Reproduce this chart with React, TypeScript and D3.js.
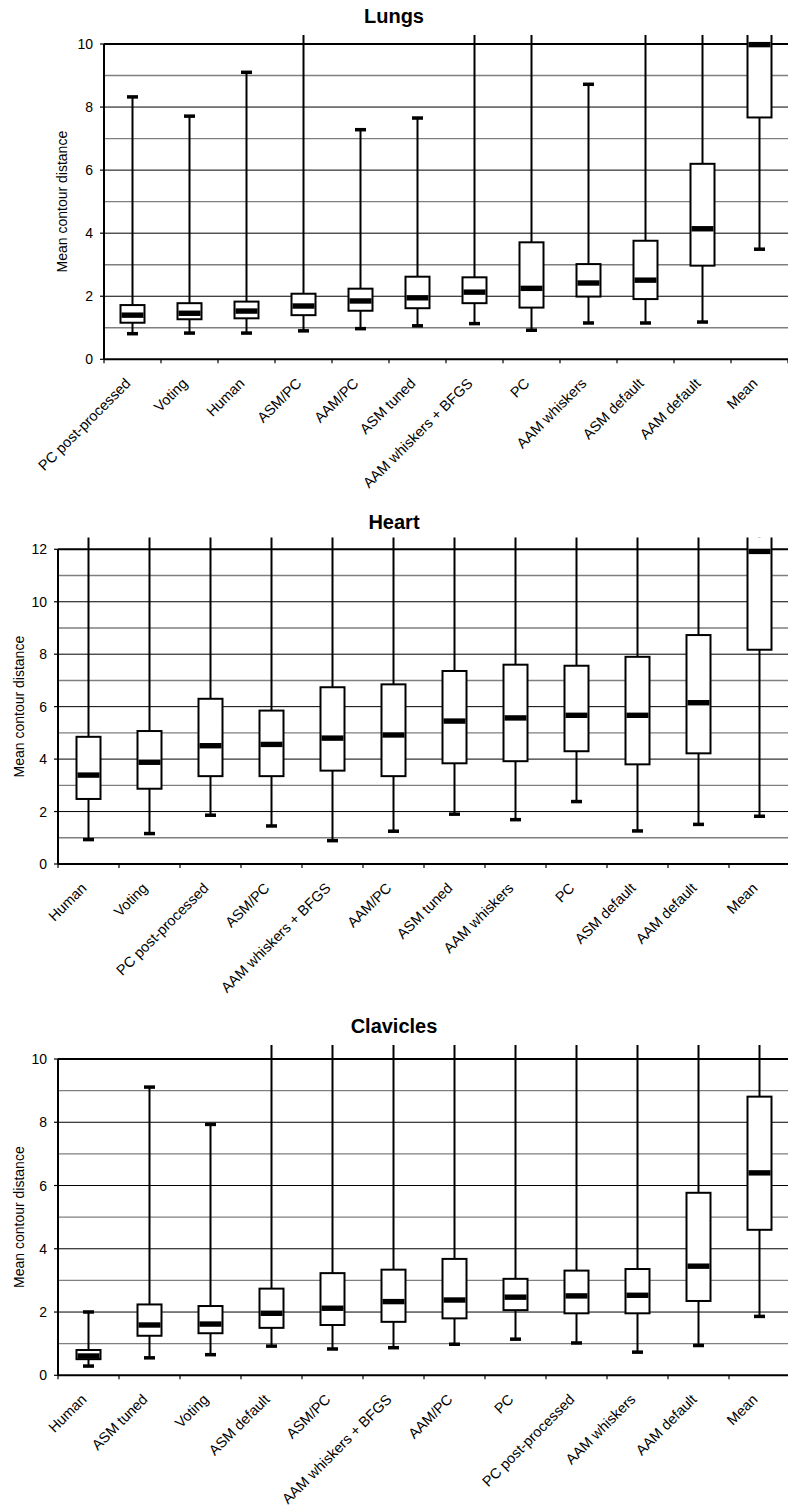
import * as d3 from 'd3';

// Lungs
const lungsCategories = ['PC post-processed', 'Voting', 'Human', 'ASM/PC', 'AAM/PC', 'ASM tuned', 'AAM whiskers + BFGS', 'PC', 'AAM whiskers', 'ASM default', 'AAM default', 'Mean'];
const lungsLow = [0.82, 0.84, 0.84, 0.91, 0.98, 1.07, 1.14, 0.93, 1.16, 1.16, 1.19, 3.5];
const lungsQ1 = [1.16, 1.27, 1.3, 1.4, 1.54, 1.62, 1.78, 1.64, 1.99, 1.91, 2.97, 7.67];
const lungsMedian = [1.4, 1.46, 1.53, 1.69, 1.85, 1.95, 2.13, 2.25, 2.42, 2.51, 4.14, 9.98];
const lungsQ3 = [1.72, 1.78, 1.83, 2.08, 2.24, 2.62, 2.6, 3.71, 3.02, 3.76, 6.2, 11.5];
const lungsHigh = [8.33, 7.72, 9.11, 11, 7.29, 7.66, 11, 11, 8.73, 11, 11, 13];
const lungsTicks = [0, 2, 4, 6, 8, 10];

// Heart
const heartCategories = ['Human', 'Voting', 'PC post-processed', 'ASM/PC', 'AAM whiskers + BFGS', 'AAM/PC', 'ASM tuned', 'AAM whiskers', 'PC', 'ASM default', 'AAM default', 'Mean'];
const heartLow = [0.94, 1.17, 1.87, 1.46, 0.9, 1.26, 1.91, 1.7, 2.39, 1.27, 1.52, 1.83];
const heartQ1 = [2.48, 2.87, 3.35, 3.35, 3.56, 3.35, 3.84, 3.92, 4.3, 3.8, 4.22, 8.17];
const heartMedian = [3.39, 3.88, 4.51, 4.56, 4.8, 4.92, 5.45, 5.57, 5.67, 5.67, 6.15, 11.92];
const heartQ3 = [4.85, 5.07, 6.3, 5.85, 6.74, 6.85, 7.36, 7.6, 7.56, 7.9, 8.73, 13];
const heartHigh = [14, 14, 14, 14, 14, 14, 14, 14, 14, 14, 14, 15];
const heartTicks = [0, 2, 4, 6, 8, 10, 12];

// Clavicles
const clavCategories = ['Human', 'ASM tuned', 'Voting', 'ASM default', 'ASM/PC', 'AAM whiskers + BFGS', 'AAM/PC', 'PC', 'PC post-processed', 'AAM whiskers', 'AAM default', 'Mean'];
const clavLow = [0.3, 0.56, 0.66, 0.93, 0.84, 0.88, 0.99, 1.15, 1.03, 0.74, 0.95, 1.87];
const clavQ1 = [0.51, 1.25, 1.33, 1.5, 1.59, 1.69, 1.8, 2.06, 1.96, 1.96, 2.35, 4.6];
const clavMedian = [0.61, 1.59, 1.62, 1.96, 2.12, 2.33, 2.38, 2.47, 2.51, 2.53, 3.45, 6.4];
const clavQ3 = [0.8, 2.24, 2.19, 2.74, 3.23, 3.34, 3.68, 3.05, 3.31, 3.36, 5.77, 8.81];
const clavHigh = [2.01, 9.12, 7.94, 11, 11, 11, 11, 11, 11, 11, 11, 11];
const clavTicks = [0, 2, 4, 6, 8, 10];

const FONT = '"Liberation Sans", Arial, sans-serif';

interface PanelProps {
  id: string;
  title: string;
  categories: string[];
  low: number[];
  q1: number[];
  median: number[];
  q3: number[];
  high: number[];
  ticks: number[];
  yMax: number;
  left: number;
  right: number;
  top: number;
  bottom: number;
  clipTop: number;
  titleY: number;
  labelX: number;
}

const Panel = (p: PanelProps) => {
  const x = d3.scaleBand().domain(p.categories).range([p.left, p.right]).padding(0);
  const y = d3.scaleLinear().domain([0, p.yMax]).range([p.bottom, p.top]);
  const minor = d3.range(1, p.yMax, 2);
  const major = p.ticks.filter(t => t > 0 && t < p.yMax);
  const bw = 24;
  const capW = 11;

  return (
    <g>
      <defs>
        <clipPath id={`clip-${p.id}`}>
          <rect x={p.left} y={p.clipTop} width={p.right - p.left + 10} height={p.bottom - p.clipTop} />
        </clipPath>
      </defs>
      <text x={394} y={p.titleY} textAnchor="middle" fontFamily={FONT} fontWeight="bold" fontSize={20}>{p.title}</text>

      {/* grid */}
      {minor.map(v => (
        <line key={`mn${v}`} x1={p.left} x2={788} y1={y(v)} y2={y(v)} stroke="#7f7f7f" strokeWidth={1.4} />
      ))}
      {major.map(v => (
        <line key={`mj${v}`} x1={p.left} x2={788} y1={y(v)} y2={y(v)} stroke="#000" strokeWidth={1} />
      ))}
      <line x1={p.left} x2={788} y1={y(p.yMax)} y2={y(p.yMax)} stroke="#000" strokeWidth={2} />

      {/* boxes */}
      <g clipPath={`url(#clip-${p.id})`}>
        {p.categories.map((c, i) => {
          const cx = (x(c) || 0) + x.bandwidth() / 2;
          return (
            <g key={c}>
              <line x1={cx} x2={cx} y1={y(p.low[i])} y2={y(p.high[i])} stroke="#000" strokeWidth={2} />
              <rect x={cx - capW / 2} y={y(p.high[i]) - 1.5} width={capW} height={3.5} fill="#000" />
              <rect x={cx - capW / 2} y={y(p.low[i]) - 1.5} width={capW} height={3.5} fill="#000" />
              <rect x={cx - bw / 2} y={y(p.q3[i])} width={bw} height={y(p.q1[i]) - y(p.q3[i])} fill="#fff" stroke="#000" strokeWidth={2} />
              <rect x={cx - bw / 2 + 1} y={y(p.median[i]) - 2.7} width={bw - 2} height={5.4} fill="#000" />
            </g>
          );
        })}
      </g>

      {/* axes */}
      <line x1={p.left} x2={p.left} y1={p.top} y2={p.bottom} stroke="#000" strokeWidth={2} />
      <line x1={p.left} x2={788} y1={p.bottom} y2={p.bottom} stroke="#000" strokeWidth={2} />
      {p.ticks.map(t => (
        <g key={`yt${t}`}>
          <line x1={p.left - 4} x2={p.left} y1={y(t)} y2={y(t)} stroke="#000" strokeWidth={1.2} />
          <text x={p.left - 11} y={y(t)} dy="0.36em" textAnchor="end" fontFamily={FONT} fontSize={14}>{t}</text>
        </g>
      ))}
      {p.categories.map((c, i) => (
        <line key={`xt${i}`} x1={(x(c) || 0) + x.bandwidth()} x2={(x(c) || 0) + x.bandwidth()} y1={p.bottom} y2={p.bottom + 4} stroke="#000" strokeWidth={1.2} />
      ))}
      <line x1={p.left} x2={p.left} y1={p.bottom} y2={p.bottom + 4} stroke="#000" strokeWidth={1.2} />
      {p.categories.map(c => {
        const cx = (x(c) || 0) + x.bandwidth() / 2;
        return (
          <text key={`xl${c}`} transform={`translate(${cx - 1},${p.bottom + 25}) rotate(-45)`} textAnchor="end" fontFamily={FONT} fontSize={14.5}>{c}</text>
        );
      })}
      <text transform={`translate(${p.labelX},${(p.top + p.bottom) / 2}) rotate(-90)`} textAnchor="middle" dy="0.35em" fontFamily={FONT} fontSize={14}>Mean contour distance</text>
    </g>
  );
};

export default function App() {
  return (
    <svg width={788} height={1507} style={{ position: 'absolute', left: 0, top: 0, background: '#fff' }}>
      <rect width={788} height={1507} fill="#fff" />
      <Panel id="lungs" title="Lungs" categories={lungsCategories} low={lungsLow} q1={lungsQ1} median={lungsMedian} q3={lungsQ3} high={lungsHigh} ticks={lungsTicks} yMax={10}
        left={104} right={788} top={44} bottom={359.3} clipTop={35} titleY={23} labelX={62} />
      <Panel id="heart" title="Heart" categories={heartCategories} low={heartLow} q1={heartQ1} median={heartMedian} q3={heartQ3} high={heartHigh} ticks={heartTicks} yMax={12}
        left={58} right={790} top={549.3} bottom={864} clipTop={537.5} titleY={529} labelX={19} />
      <Panel id="clav" title="Clavicles" categories={clavCategories} low={clavLow} q1={clavQ1} median={clavMedian} q3={clavQ3} high={clavHigh} ticks={clavTicks} yMax={10}
        left={58} right={790} top={1059} bottom={1375.3} clipTop={1045} titleY={1033} labelX={19} />
    </svg>
  );
}
